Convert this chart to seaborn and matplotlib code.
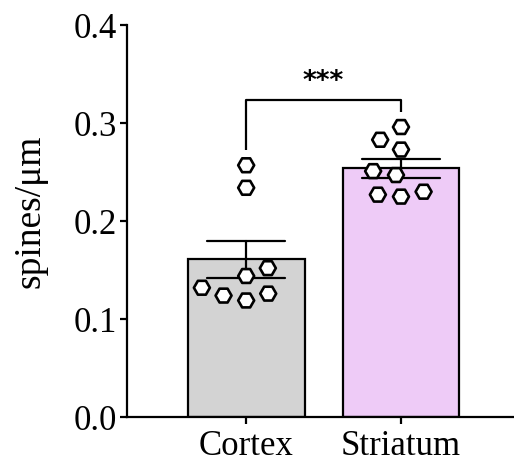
import numpy as np
import pandas as pd
import matplotlib
matplotlib.use("Agg")
import matplotlib.pyplot as plt
import seaborn as sns
from matplotlib.collections import PathCollection

# ---- data ----
regions = ["Cortex", "Striatum"]
cortex_vals = [0.257, 0.234, 0.144, 0.119, 0.152, 0.132, 0.124, 0.126]
striatum_vals = [0.296, 0.283, 0.273, 0.251, 0.247, 0.225, 0.230, 0.227]
bar_colors = ["#D3D3D3", "#EECBF7"]
y_ticks = [0.0, 0.1, 0.2, 0.3, 0.4]
y_label = "spines/\u03bcm"
sig_label = "***"
bracket_y = 0.324

df = pd.DataFrame({
    "region": [regions[0]] * len(cortex_vals) + [regions[1]] * len(striatum_vals),
    "density": cortex_vals + striatum_vals,
})

sns.set_theme(style="ticks")
plt.rcParams["font.family"] = ["Liberation Serif", "DejaVu Serif"]
for k in ["text.color", "axes.labelcolor", "xtick.color", "ytick.color", "axes.edgecolor"]:
    plt.rcParams[k] = "black"

fig = plt.figure(figsize=(5.14, 4.65), dpi=100)
ax = fig.add_axes([0.247, 0.103, 0.753, 0.843])

lw = 1.6
sns.barplot(data=df, x="region", y="density", hue="region", order=regions,
            hue_order=regions, palette=bar_colors, saturation=1, errorbar="se",
            capsize=0.5, width=0.755, edgecolor="black", linewidth=lw,
            err_kws={"color": "black", "linewidth": lw}, legend=False, ax=ax)

# swarm layout computed with a roomier spacing, then markers drawn at final size
sns.swarmplot(data=df, x="region", y="density", order=regions, marker="H",
              size=14, color="white", edgecolor="black", linewidth=1.9,
              zorder=4, ax=ax)

ax.set_xlim(-0.77, 1.73)
ax.set_ylim(0, 0.4)
fig.canvas.draw()
for pts in ax.collections:
    if isinstance(pts, PathCollection):
        if "draw" in pts.__dict__:
            del pts.draw
        pts.set_sizes(np.full(len(pts.get_offsets()), 11.5 ** 2))

# significance bracket
left_top = max(cortex_vals) + 0.016
right_top = max(striatum_vals) + 0.015
ax.plot([0, 0, 1, 1], [left_top, bracket_y, bracket_y, right_top],
        color="black", lw=lw, solid_capstyle="butt", clip_on=False)
ax.text(0.5, bracket_y + 0.005, sig_label, ha="center", va="bottom",
        fontsize=19, fontweight="bold", family=["DejaVu Sans"])

ax.set_yticks(y_ticks)
ax.set_yticklabels([f"{t:.1f}" for t in y_ticks])
ax.set_xlabel("")
ax.set_ylabel(y_label, fontsize=27)
ax.yaxis.set_label_coords(-0.205, 0.526)
ax.tick_params(axis="both", labelsize=25, width=lw, length=5, color="black")
ax.tick_params(axis="y", pad=2)
ax.tick_params(axis="x", pad=4)
for s in ["top", "right"]:
    ax.spines[s].set_visible(False)
for s in ["left", "bottom"]:
    ax.spines[s].set_linewidth(lw)
    ax.spines[s].set_color("black")

fig.savefig("out.png", dpi=100)
